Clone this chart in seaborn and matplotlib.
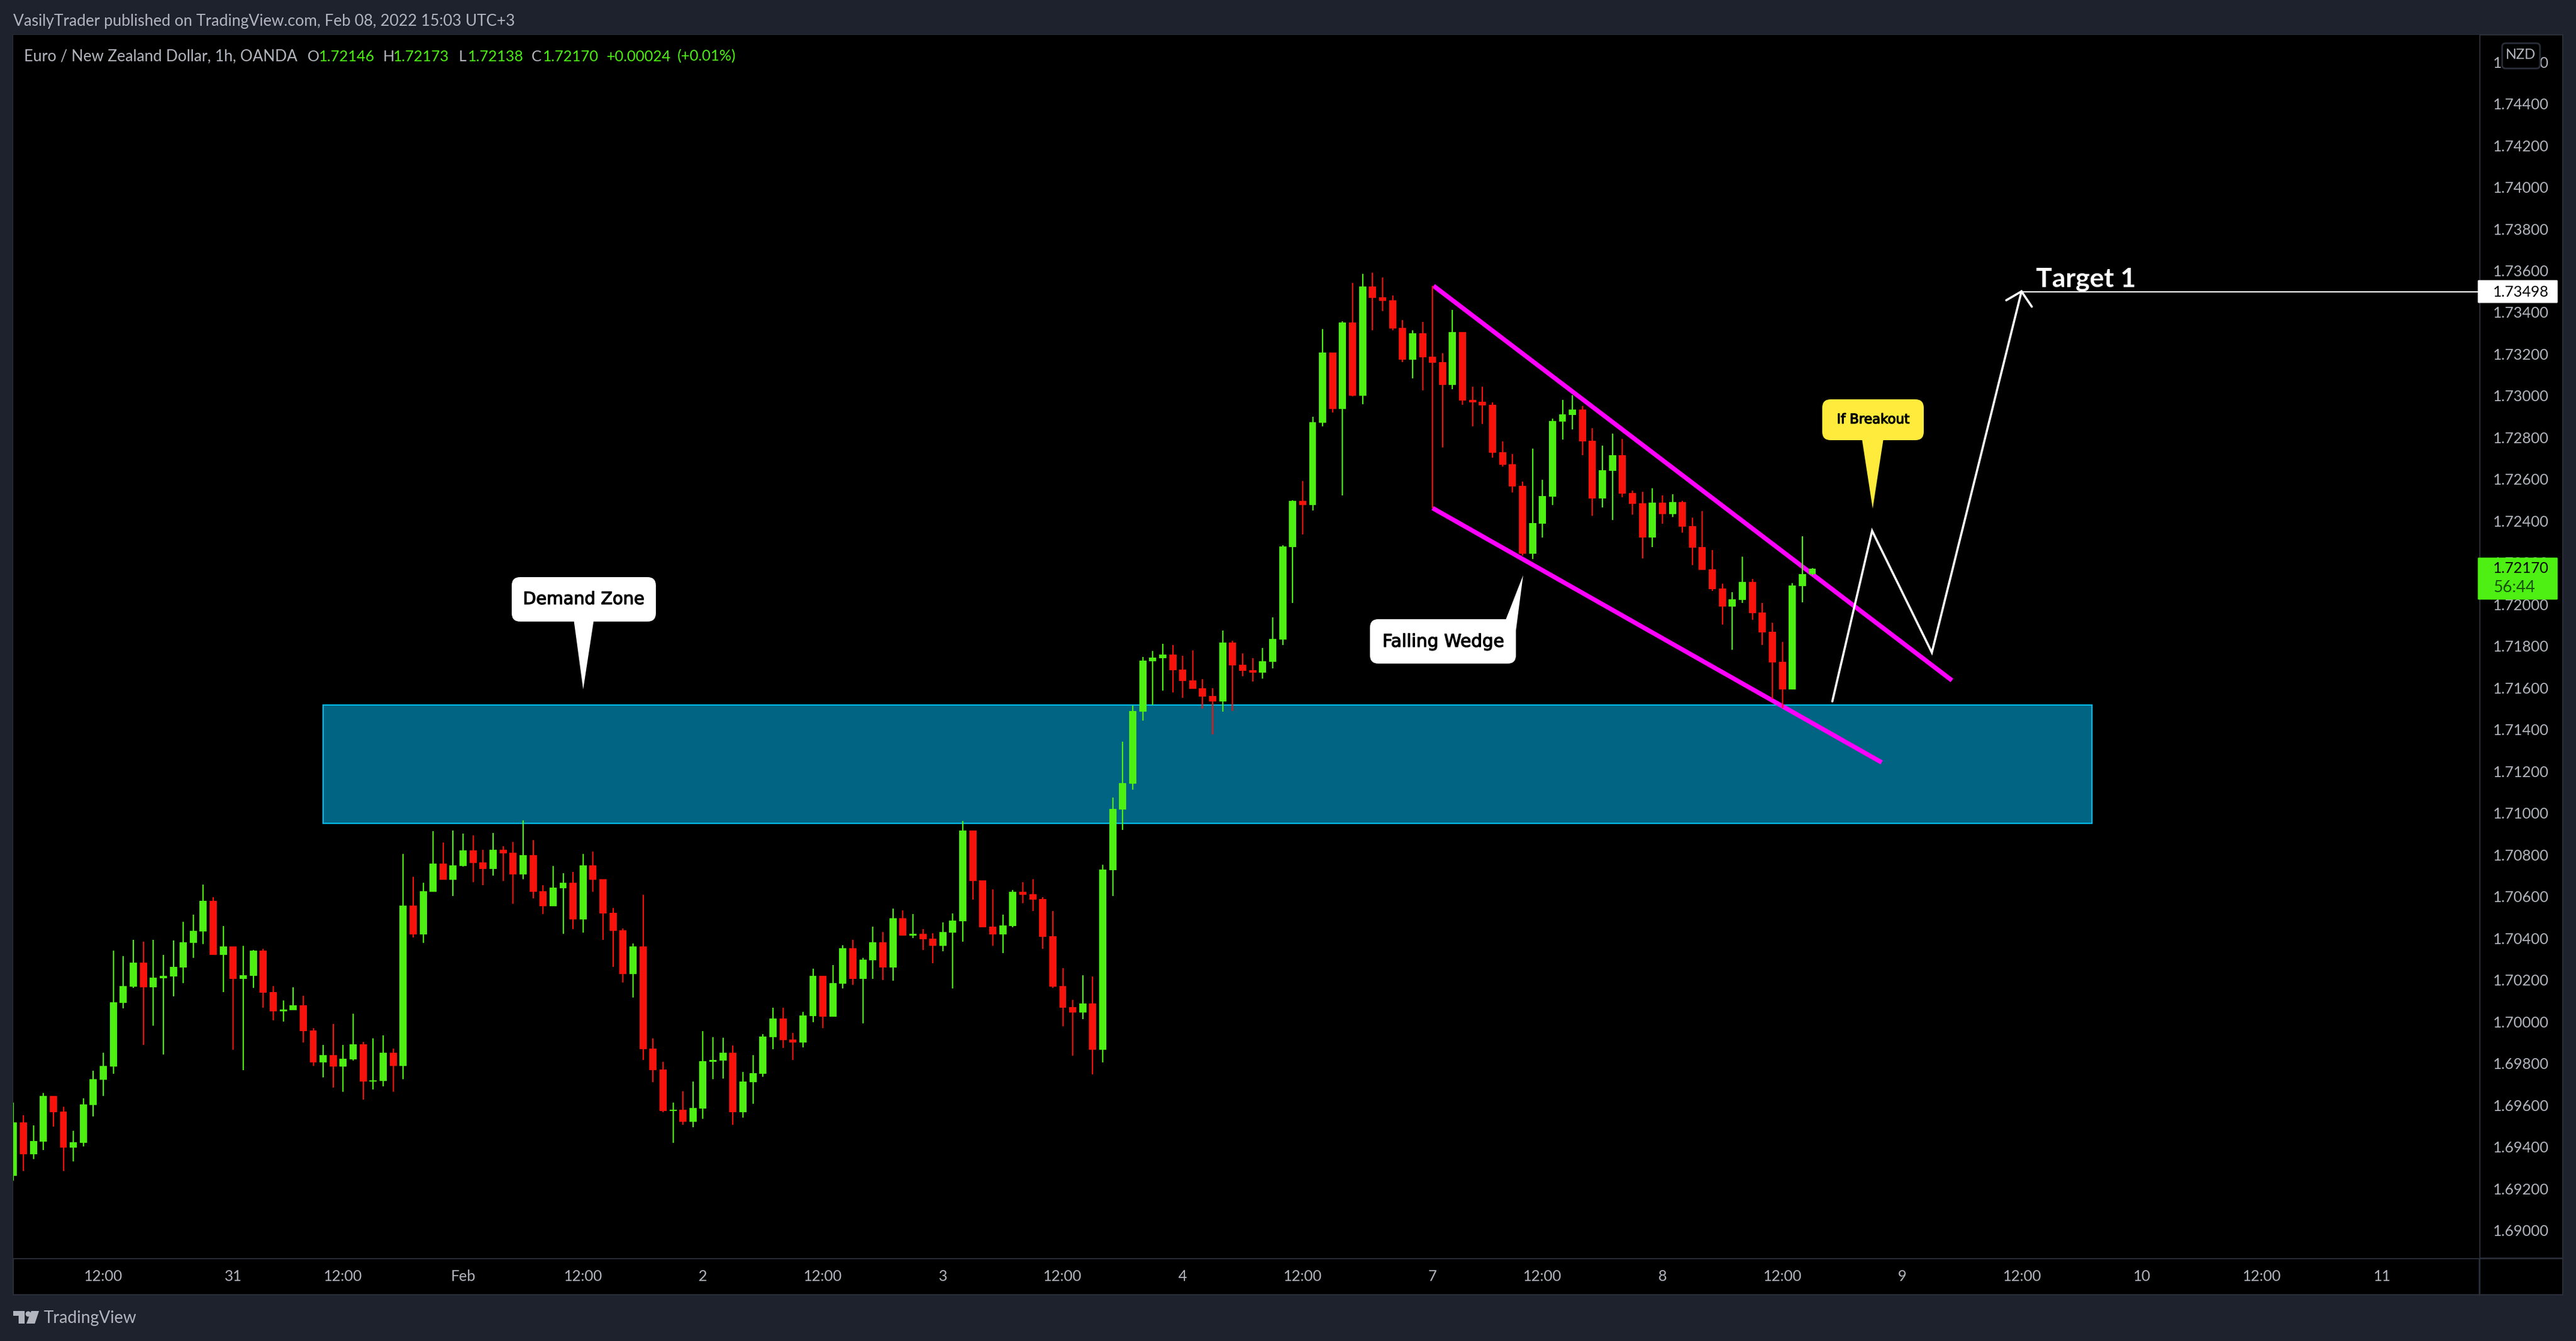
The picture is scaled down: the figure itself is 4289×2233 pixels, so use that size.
import numpy as np
import pandas as pd
import seaborn as sns
import matplotlib
matplotlib.use("Agg")
import matplotlib.pyplot as plt
import matplotlib.patheffects as pe
from matplotlib.patches import Rectangle, FancyBboxPatch, Polygon, Circle

opens = [1.69262,1.69517,1.69365,1.69425,1.69644,1.69569,1.69396,1.69419,1.69600,1.69721,
1.69785,1.70090,1.70168,1.70283,1.70164,1.70208,1.70217,1.70259,1.70378,1.70433,
1.70579,1.70320,1.70361,1.70205,1.70220,1.70340,1.70142,1.70050,1.70055,1.70078,
1.69957,1.69805,1.69839,1.69785,1.69820,1.69892,1.69713,1.69716,1.69851,1.69788,
1.70556,1.70419,1.70623,1.70758,1.70680,1.70746,1.70821,1.70763,1.70732,1.70823,
1.70809,1.70707,1.70798,1.70626,1.70554,1.70640,1.70665,1.70491,1.70749,1.70683,
1.70522,1.70438,1.70229,1.70361,1.69871,1.69771,1.69572,1.69577,1.69521,1.69584,
1.69808,1.69814,1.69851,1.69567,1.69711,1.69751,1.69927,1.70015,1.69915,1.69900,
1.70027,1.70220,1.70024,1.70182,1.70352,1.70205,1.70294,1.70380,1.70259,1.70496,
1.70412,1.70421,1.70398,1.70364,1.70426,1.70482,1.70916,1.70677,1.70456,1.70419,
1.70459,1.70623,1.70611,1.70588,1.70410,1.70171,1.70071,1.70044,1.70087,1.69865,
1.70725,1.71016,1.71141,1.71486,1.71728,1.71742,1.71759,1.71687,1.71635,1.71598,
1.71561,1.71535,1.71816,1.71711,1.71684,1.71673,1.71725,1.71831,1.72275,1.72497,
1.72477,1.72870,1.73208,1.72936,1.73352,1.73001,1.73524,1.73472,1.73457,1.73325,
1.73173,1.73299,1.73187,1.73161,1.73052,1.73305,1.72980,1.72971,1.72957,1.72729,
1.72672,1.72569,1.72243,1.72387,1.72516,1.72876,1.72908,1.72933,1.72784,1.72508,
1.72640,1.72715,1.72534,1.72485,1.72321,1.72488,1.72434,1.72490,1.72376,1.72274,
1.72168,1.72077,1.71990,1.72021,1.72107,1.71961,1.71870,1.71726,1.71592,1.72088,
1.72146]
highs = [1.69613,1.69551,1.69503,1.69658,1.69644,1.69593,1.69477,1.69631,1.69765,1.69851,
1.70340,1.70315,1.70392,1.70384,1.70392,1.70320,1.70389,1.70479,1.70513,1.70656,
1.70596,1.70459,1.70361,1.70364,1.70343,1.70349,1.70171,1.70101,1.70164,1.70125,
1.69969,1.69888,1.69990,1.69888,1.70038,1.69903,1.69920,1.69934,1.69871,1.70804,
1.70695,1.70665,1.70913,1.70858,1.70916,1.70902,1.70893,1.70823,1.70904,1.70841,
1.70862,1.70965,1.70870,1.70654,1.70746,1.70712,1.70718,1.70804,1.70816,1.70683,
1.70545,1.70447,1.70375,1.70608,1.69920,1.69808,1.69612,1.69667,1.69713,1.69955,
1.69927,1.69923,1.69885,1.69760,1.69839,1.69941,1.70067,1.70067,1.69946,1.70047,
1.70254,1.70220,1.70271,1.70366,1.70392,1.70306,1.70456,1.70430,1.70542,1.70533,
1.70516,1.70444,1.70424,1.70475,1.70519,1.70962,1.70916,1.70677,1.70635,1.70513,
1.70631,1.70668,1.70683,1.70596,1.70531,1.70257,1.70104,1.70222,1.70217,1.70752,
1.71074,1.71341,1.71515,1.71748,1.71777,1.71812,1.71805,1.71753,1.71780,1.71641,
1.71598,1.71875,1.71826,1.71764,1.71742,1.71791,1.71938,1.72284,1.72500,1.72591,
1.72899,1.73319,1.73208,1.73356,1.73541,1.73584,1.73590,1.73568,1.73481,1.73363,
1.73314,1.73355,1.73527,1.73205,1.73412,1.73305,1.73043,1.73043,1.72968,1.72782,
1.72720,1.72588,1.72747,1.72597,1.72891,1.72980,1.73004,1.72951,1.72844,1.72760,
1.72819,1.72793,1.72546,1.72539,1.72557,1.72522,1.72528,1.72497,1.72416,1.72448,
1.72260,1.72100,1.72059,1.72229,1.72123,1.72007,1.71912,1.71820,1.72102,1.72327,
1.72173]
lows = [1.69237,1.69285,1.69341,1.69384,1.69497,1.69285,1.69331,1.69402,1.69546,1.69644,
1.69751,1.70064,1.70162,1.69888,1.69981,1.69843,1.70122,1.70185,1.70306,1.70372,
1.70320,1.70142,1.69865,1.69767,1.70162,1.70067,1.70006,1.70001,1.70055,1.69900,
1.69788,1.69733,1.69684,1.69665,1.69814,1.69627,1.69676,1.69690,1.69665,1.69725,
1.70403,1.70378,1.70623,1.70680,1.70602,1.70744,1.70668,1.70654,1.70700,1.70674,
1.70565,1.70683,1.70591,1.70516,1.70554,1.70421,1.70444,1.70426,1.70623,1.70392,
1.70263,1.70187,1.70116,1.69816,1.69711,1.69567,1.69419,1.69505,1.69495,1.69535,
1.69725,1.69727,1.69505,1.69540,1.69607,1.69736,1.69869,1.69874,1.69816,1.69876,
1.69999,1.69969,1.70024,1.70159,1.70176,1.69992,1.70205,1.70199,1.70196,1.70412,
1.70401,1.70343,1.70280,1.70338,1.70159,1.70384,1.70585,1.70452,1.70364,1.70329,
1.70452,1.70568,1.70531,1.70349,1.70162,1.69978,1.69837,1.70013,1.69748,1.69805,
1.70602,1.70918,1.71112,1.71442,1.71518,1.71586,1.71578,1.71551,1.71595,1.71501,
1.71377,1.71486,1.71488,1.71655,1.71630,1.71644,1.71693,1.71805,1.72007,1.72336,
1.72450,1.72854,1.72920,1.72522,1.72996,1.72960,1.73314,1.73406,1.73314,1.73161,
1.73083,1.73026,1.72462,1.72753,1.73032,1.72958,1.72854,1.72864,1.72704,1.72660,
1.72537,1.72234,1.72218,1.72321,1.72477,1.72789,1.72839,1.72716,1.72424,1.72465,
1.72403,1.72514,1.72430,1.72220,1.72274,1.72387,1.72418,1.72344,1.72188,1.72165,
1.72065,1.71903,1.71782,1.72007,1.71926,1.71805,1.71545,1.71503,1.71592,1.72010,
1.72138]
closes = [1.69517,1.69365,1.69428,1.69644,1.69567,1.69396,1.69423,1.69604,1.69725,1.69788,
1.70092,1.70171,1.70283,1.70164,1.70211,1.70220,1.70263,1.70380,1.70435,1.70579,
1.70320,1.70361,1.70205,1.70222,1.70340,1.70139,1.70050,1.70059,1.70078,1.69955,
1.69805,1.69839,1.69785,1.69823,1.69892,1.69713,1.69718,1.69851,1.69788,1.70556,
1.70419,1.70626,1.70758,1.70680,1.70749,1.70821,1.70761,1.70732,1.70823,1.70807,
1.70707,1.70798,1.70623,1.70554,1.70642,1.70665,1.70491,1.70749,1.70680,1.70519,
1.70435,1.70229,1.70361,1.69869,1.69767,1.69572,1.69577,1.69521,1.69586,1.69811,
1.69816,1.69851,1.69567,1.69713,1.69753,1.69929,1.70015,1.69911,1.69900,1.70029,
1.70220,1.70024,1.70185,1.70352,1.70205,1.70297,1.70380,1.70259,1.70496,1.70412,
1.70421,1.70396,1.70364,1.70430,1.70484,1.70916,1.70674,1.70452,1.70419,1.70461,
1.70623,1.70608,1.70585,1.70407,1.70168,1.70067,1.70044,1.70087,1.69865,1.70728,
1.71019,1.71144,1.71488,1.71731,1.71745,1.71759,1.71684,1.71633,1.71595,1.71557,
1.71535,1.71816,1.71707,1.71682,1.71673,1.71728,1.71834,1.72278,1.72497,1.72477,
1.72873,1.73208,1.72936,1.73352,1.73001,1.73524,1.73469,1.73455,1.73322,1.73173,
1.73299,1.73184,1.73158,1.73052,1.73305,1.72977,1.72968,1.72955,1.72726,1.72669,
1.72566,1.72243,1.72390,1.72519,1.72879,1.72911,1.72933,1.72782,1.72508,1.72643,
1.72715,1.72531,1.72483,1.72321,1.72488,1.72434,1.72490,1.72373,1.72272,1.72165,
1.72074,1.71990,1.72024,1.72107,1.71958,1.71866,1.71722,1.71592,1.72091,1.72146,
1.72170]

price_ticks = [1.69 + 0.002 * k for k in range(29)]
time_tick_bars = [9, 22, 33, 45, 57, 69, 81, 93, 105, 117, 129, 142, 153, 165, 177, 189, 201, 213, 225, 237]
time_tick_labels = ["12:00", "31", "12:00", "Feb", "12:00", "2", "12:00", "3", "12:00", "4",
                    "12:00", "7", "12:00", "8", "12:00", "9", "12:00", "10", "12:00", "11"]

zone_bars = [31, 208]
zone_prices = [1.709515, 1.715167]
wedge_upper_bars = [142.1, 193.97]
wedge_upper_prices = [1.735266, 1.716356]
wedge_lower_bars = [142.0, 186.94]
wedge_lower_prices = [1.724617, 1.712425]
path_bars = [182.0, 185.98, 191.96, 200.93]
path_prices = [1.715352, 1.723526, 1.717692, 1.735001]
head_bars = [199.4, 200.93, 201.96]
head_prices = [1.734575, 1.735001, 1.734267]
target_price = 1.73498
last_price = 1.72170

W, H = 4289, 2233
BG = "#1e222d"
LINE = "#2a2e39"
UP = "#4df012"
DOWN = "#f7130c"
GREY = "#b2b5be"
FONT = ["Lato", "DejaVu Sans"]

sns.set_theme(style="dark")
plt.rcParams["font.family"] = FONT
plt.rcParams["axes.grid"] = False

df = pd.DataFrame({"bar": np.arange(len(opens)), "open": opens, "high": highs, "low": lows, "close": closes})
df["base"] = df[["open", "close"]].min(axis=1)
df["body"] = (df["open"] - df["close"]).abs()
df["up"] = df["close"] >= df["open"]

fig = plt.figure(figsize=(W / 100, H / 100), dpi=100, facecolor=BG)


def pixel_axes(z):
    a = fig.add_axes([0, 0, 1, 1], zorder=z)
    a.set_xlim(0, W)
    a.set_ylim(H, 0)
    a.axis("off")
    a.patch.set_alpha(0)
    return a


bg = pixel_axes(-1)
bg.add_patch(Rectangle((22, 58), 4245, 2098, fc="black", ec=LINE, lw=1.5))
bg.plot([22, 4267], [2095, 2095], color=LINE, lw=2)
bg.plot([4128, 4128], [58, 2156], color=LINE, lw=2)

left, right, top, bottom = 22, 4128, 58, 2095
ax = fig.add_axes([left / W, 1 - bottom / H, (right - left) / W, (bottom - top) / H], zorder=1)
ax.set_facecolor("black")
for s in ax.spines.values():
    s.set_visible(False)

ax.add_patch(Rectangle((zone_bars[0], zone_prices[0]), zone_bars[1] - zone_bars[0], zone_prices[1] - zone_prices[0],
                       fc="#006482", ec="#00bcf5", lw=1.6, zorder=1))
ax.plot(wedge_upper_bars, wedge_upper_prices, color="#ff00ff", lw=5.4, zorder=2, solid_capstyle="butt")
ax.plot(wedge_lower_bars, wedge_lower_prices, color="#ff00ff", lw=5.4, zorder=2, solid_capstyle="butt")
ax.plot(path_bars, path_prices, color="white", lw=2.6, zorder=2, solid_joinstyle="miter")
ax.plot(head_bars, head_prices, color="white", lw=2.6, zorder=2, solid_joinstyle="miter")
ax.plot([path_bars[-1], 250], [target_price, target_price], color="white", lw=1.6, zorder=2)

for is_up, colour in ((True, UP), (False, DOWN)):
    part = df[df["up"] == is_up]
    ax.vlines(part["bar"], part["low"], part["high"], colors=colour, lw=1.6, zorder=3)
    sns.barplot(data=part, x="bar", y="body", bottom=part["base"].values, native_scale=True, orient="x",
                color=colour, saturation=1, width=0.72, errorbar=None, linewidth=0, zorder=4, ax=ax)

ax.set_xlim((left - 22.3) / 16.64, (right - 22.3) / 16.64)
ax.set_ylim(1.736 - (bottom - 450.5) / 34744, 1.736 + (450.5 - top) / 34744)
ax.set_xlabel("")
ax.set_ylabel("")
ax.set_xticks(time_tick_bars)
ax.set_xticklabels(time_tick_labels)
ax.yaxis.tick_right()
ax.set_yticks(price_ticks)
ax.set_yticklabels([f"{p:.5f}" for p in price_ticks])
ax.tick_params(axis="x", length=0, pad=14, labelsize=18, labelcolor=GREY)
ax.tick_params(axis="y", length=0, pad=16.5, labelsize=18, labelcolor=GREY)

fg = pixel_axes(5)


def callout(box, pointer, colour, label, size, centre):
    x0, y0, x1, y1, r = box
    fg.add_patch(FancyBboxPatch((x0 + r, y0 + r), x1 - x0 - 2 * r, y1 - y0 - 2 * r,
                                boxstyle=f"round,pad={r}", fc=colour, ec="none"))
    fg.add_patch(Polygon(pointer, closed=True, fc=colour, ec="none"))
    t = fg.text(centre[0], centre[1], label, color="black", fontsize=size,
                ha="center", va="center", family=["DejaVu Sans"])
    t.set_path_effects([pe.withStroke(linewidth=0.9, foreground="black")])


callout((852, 961, 1092, 1035, 14), [(955, 1030), (971, 1148), (989, 1030)], "white", "Demand Zone", 20.5, (972, 998))
callout((2281, 1031, 2524, 1105, 14), [(2507, 1032), (2536, 958), (2524, 1050)], "white", "Falling Wedge", 21, (2403, 1069))
callout((3034, 665, 3203, 733, 14), [(3100, 730), (3118, 847), (3136, 730)], "#ffeb3b", "If Breakout", 16, (3119, 699))

fg.text(3390, 465, "Target 1", color="white", fontsize=32, fontweight="bold", va="center", ha="left")

fg.add_patch(FancyBboxPatch((4127, 468), 130, 35, boxstyle="round,pad=1.5", fc="white", ec="none"))
fg.text(4151, 486, f"{target_price:.5f}", color="black", fontsize=18, va="center", ha="left")
fg.add_patch(FancyBboxPatch((4127, 930), 130, 67, boxstyle="round,pad=1.5", fc=UP, ec="none"))
fg.text(4151, 946, f"{last_price:.5f}", color="black", fontsize=18, va="center", ha="left")
fg.text(4151, 979, "56:44", color="#15520a", fontsize=19.5, va="center", ha="left")
fg.add_patch(FancyBboxPatch((4172, 78), 51, 30, boxstyle="round,pad=6", fc="black", ec=LINE, lw=2))
fg.text(4197, 92, "NZD", color=GREY, fontsize=17, va="center", ha="center")

fg.text(22, 35, "VasilyTrader published on TradingView.com, Feb 08, 2022 15:03 UTC+3", color=GREY, fontsize=18.8, va="center", ha="left")
legend = [(40, "Euro / New Zealand Dollar, 1h, OANDA", GREY, 18.6), (512, "O", GREY, 18), (531, "1.72146", UP, 18), (638, "H", GREY, 18),
          (655, "1.72173", UP, 18), (764, "L", GREY, 18), (779, "1.72138", UP, 18), (885, "C", GREY, 18), (904, "1.72170", UP, 18),
          (1010, "+0.00024", UP, 18), (1128, "(+0.01%)", UP, 18)]
for x, s, c, size in legend:
    fg.text(x, 94, s, color=c, fontsize=size, va="center", ha="left")

fg.add_patch(Polygon([(22, 2183), (41, 2183), (41, 2204), (31, 2204), (31, 2191), (22, 2191)], closed=True, fc=GREY, ec="none"))
fg.add_patch(Circle((47, 2188), 4.5, fc=GREY, ec="none"))
fg.add_patch(Polygon([(52, 2183), (65, 2183), (58, 2204), (44, 2204)], closed=True, fc=GREY, ec="none"))
fg.text(73, 2195, "TradingView", color=GREY, fontsize=20, va="center", ha="left")

fig.savefig("out.png", dpi=100, facecolor=BG)
